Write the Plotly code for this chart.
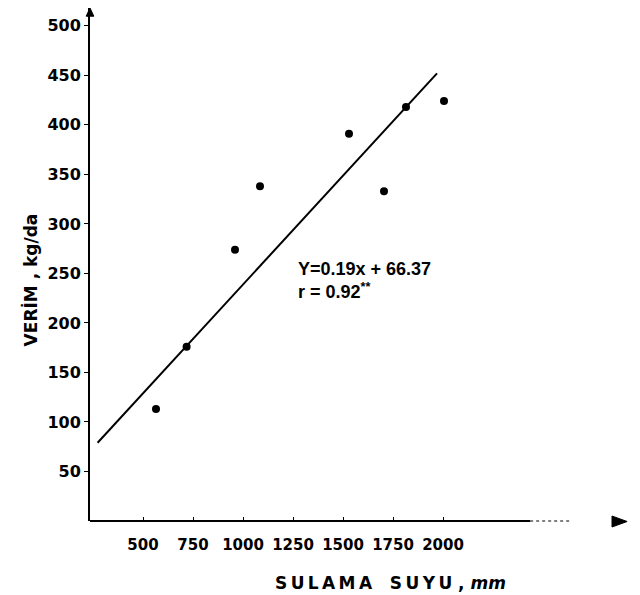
import plotly.graph_objects as go

# Data
irrigation_mm = [565, 718, 960, 1085, 1530, 1705, 1815, 2005]
yield_kg_da = [113, 176, 274, 338, 391, 333, 418, 424]

# Regression line as drawn (end points)
line_x = [273, 1970]
line_y = [79, 452]

x_ticks = [500, 750, 1000, 1250, 1500, 1750, 2000]
x_tick_labels = ["500", "750", "1000", "1250", "1500", "1750", "2000"]
y_ticks = [50, 100, 150, 200, 250, 300, 350, 400, 450, 500]
y_tick_labels = ["50", "100", "150", "200", "250", "300", "350", "400", "450", "500"]

FONT = "DejaVu Sans"
TS = "\u2009"  # thin space for letter spacing

fig = go.Figure()
fig.add_trace(go.Scatter(x=line_x, y=line_y, mode="lines",
                         line=dict(color="black", width=2), showlegend=False))
fig.add_trace(go.Scatter(x=irrigation_mm, y=yield_kg_da, mode="markers",
                         marker=dict(color="black", size=8), showlegend=False))

fig.update_layout(
    width=640, height=595,
    margin=dict(l=82, r=78, t=0, b=82),
    plot_bgcolor="white", paper_bgcolor="white",
    font=dict(family=FONT, color="black"),
    xaxis=dict(range=[235, 2635], showgrid=False, zeroline=False, showline=False,
               tickmode="array", tickvals=x_ticks, ticktext=x_tick_labels,
               ticks="inside", ticklen=4, tickcolor="black", ticklabelstandoff=13,
               tickfont=dict(family=FONT, size=15, color="black", weight="bold")),
    yaxis=dict(range=[0, 518], showgrid=False, zeroline=False, showline=True,
               linecolor="black", linewidth=2,
               tickmode="array", tickvals=y_ticks, ticktext=y_tick_labels,
               ticks="outside", ticklen=4, tickcolor="black",
               tickfont=dict(family=FONT, size=16, color="black", weight="bold")),
    shapes=[
        dict(type="line", xref="paper", yref="paper", x0=0, x1=0.917, y0=0, y1=0,
             line=dict(color="black", width=2)),
        dict(type="line", xref="paper", yref="paper", x0=0.917, x1=1.0, y0=0, y1=0,
             line=dict(color="black", width=1, dash="dot")),
        # x-axis arrow head
        dict(type="path", xref="paper", yref="paper",
             path="M 1.0875 0.0097 L 1.119 -0.001 L 1.0875 -0.0117 Z",
             fillcolor="black", line=dict(color="black", width=1)),
        # y-axis arrow head
        dict(type="path", xref="paper", yref="paper",
             path="M -0.008 0.984 L 0 1.0 L 0.008 0.984 Z",
             fillcolor="black", line=dict(color="black", width=1)),
    ],
    annotations=[
        dict(text="VERİM , kg/da", xref="paper", yref="paper",
             x=-0.15, y=0.47, textangle=-90, showarrow=False,
             font=dict(family=FONT, size=17, color="black", weight="bold")),
        dict(text=TS.join("SULAMA") + "   " + TS.join("SUYU") + " , <i>mm</i>",
             xref="paper", yref="paper",
             x=0.625, y=-0.12, showarrow=False, xanchor="center", yanchor="middle",
             font=dict(family=FONT, size=17, color="black", weight="bold")),
        dict(text="<b>Y=0.19x + 66.37</b><br><b>r = 0.92<sup>**</sup></b>",
             xref="paper", yref="paper", x=0.43, y=0.515,
             xanchor="left", yanchor="top", align="left", showarrow=False,
             font=dict(family="Liberation Sans Narrow, Liberation Sans", size=18, color="black")),
    ],
)

fig.write_html("out.html")
